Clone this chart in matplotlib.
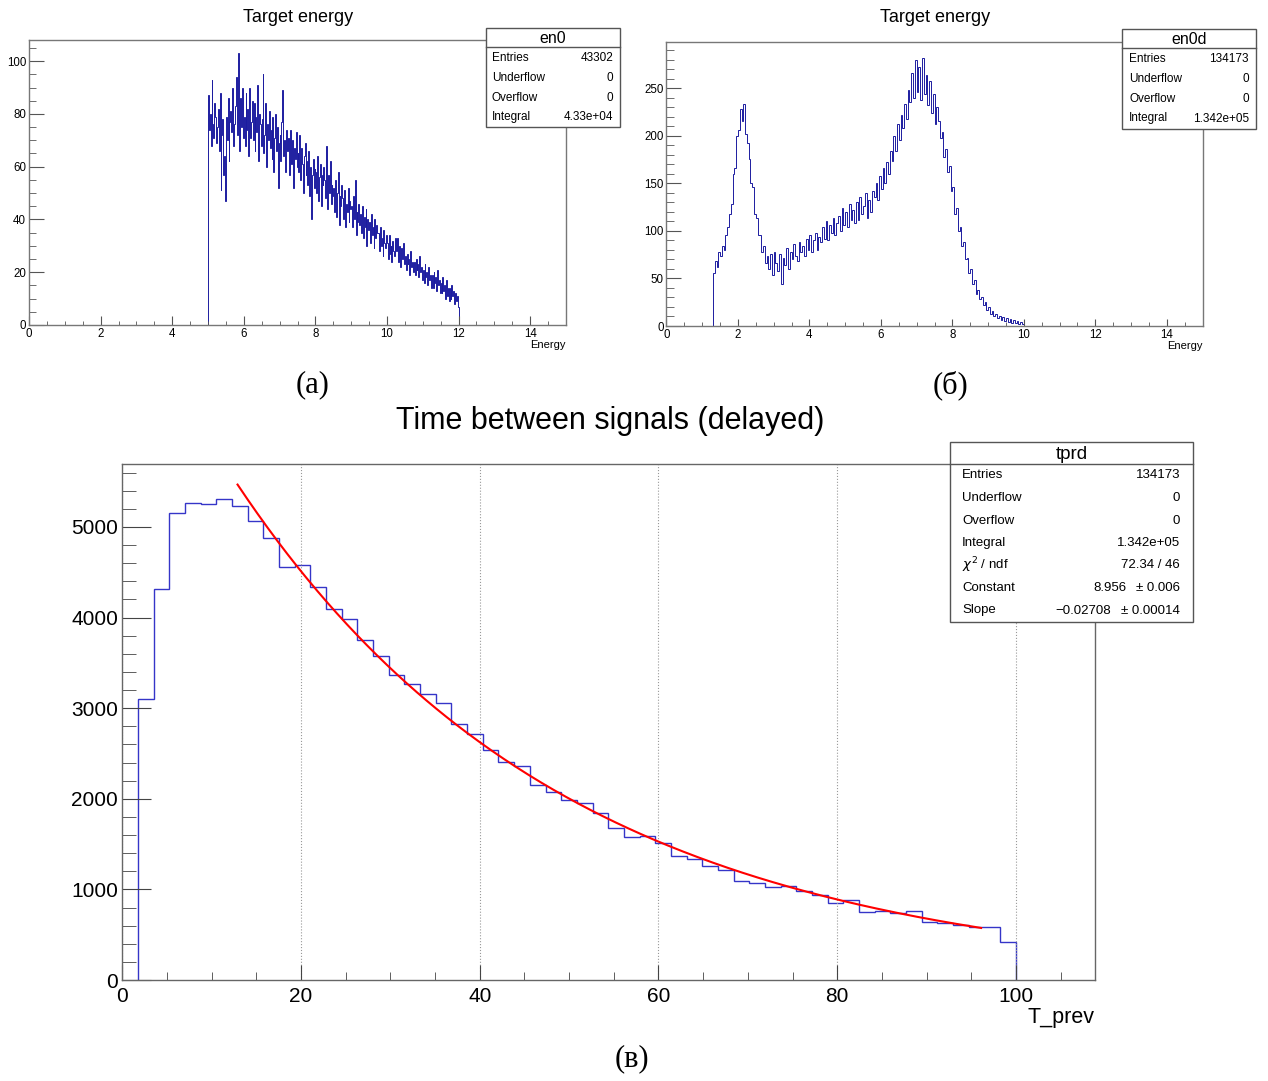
import matplotlib.pyplot as plt
import numpy as np
from matplotlib.patches import Rectangle
from matplotlib.lines import Line2D
from matplotlib.ticker import MultipleLocator

plt.rcParams['font.family'] = ['Liberation Sans', 'DejaVu Sans']

W, H = 1268, 1081

# ---- data -------------------------------------------------------------
# en0: target energy (prompt), bins of 0.025 starting at 5.00
en0_lo, en0_w = 5.0, 0.025
en0_counts = [
    87, 74, 80, 68, 93, 76, 71, 84, 79, 69,
    75, 82, 66, 88, 51, 72, 78, 57, 64, 47,
    79, 70, 86, 62, 77, 81, 73, 90, 68, 76,
    83, 94, 72, 80, 103, 66, 86, 75, 90, 71,
    79, 68, 88, 74, 82, 64, 90, 71, 77, 85,
    70, 84, 66, 79, 73, 91, 62, 80, 76, 68,
    78, 95, 65, 72, 84, 60, 76, 70, 81, 67,
    74, 63, 79, 58, 71, 80, 66, 75, 52, 69,
    72, 62, 77, 89, 64, 70, 58, 74, 66, 71,
    68, 57, 74, 61, 70, 52, 67, 63, 73, 60,
    65, 58, 72, 55, 67, 61, 50, 64, 69, 57,
    62, 53, 66, 49, 60, 40, 57, 63, 52, 59,
    58, 50, 64, 47, 56, 61, 45, 57, 53, 60,
    55, 48, 68, 44, 57, 50, 62, 46, 53, 49,
    52, 43, 55, 41, 50, 58, 38, 49, 45, 53,
    48, 40, 51, 37, 46, 43, 52, 39, 47, 44,
    45, 37, 49, 40, 55, 34, 43, 39, 46, 38,
    42, 35, 45, 33, 41, 37, 44, 30, 40, 36,
    39, 31, 42, 34, 37, 29, 40, 33, 38, 35,
    35, 28, 37, 30, 33, 26, 36, 31, 29, 34,
    31, 25, 34, 27, 30, 24, 32, 28, 26, 33,
    28, 33, 24, 30, 26, 22, 29, 25, 31, 23,
    26, 21, 27, 23, 25, 19, 28, 22, 24, 20,
    24, 19, 25, 21, 23, 18, 26, 20, 22, 17,
    21, 16, 23, 18, 20, 15, 22, 17, 19, 14,
    19, 14, 20, 16, 18, 13, 21, 15, 17, 12,
    16, 12, 18, 13, 15, 10, 17, 11, 14, 9,
    14, 10, 15, 11, 13, 8, 12, 9, 11, 7,
]

# en0d: target energy (delayed), bins of 0.05 starting at 1.30
en0d_lo, en0d_w = 1.3, 0.05
en0d_counts = [
    56, 68, 62, 78, 74, 84, 80, 96, 104, 118,
    128, 160, 166, 200, 206, 228, 216, 234, 202, 192,
    176, 150, 146, 118, 114, 96, 96, 78, 84, 66,
    74, 60, 76, 54, 78, 66, 58, 76, 44, 72,
    64, 82, 60, 78, 70, 86, 74, 68, 88, 78,
    84, 74, 92, 80, 96, 78, 90, 98, 80, 94,
    88, 104, 92, 110, 90, 106, 98, 114, 96, 108,
    116, 100, 124, 106, 120, 104, 128, 112, 122, 108,
    130, 112, 136, 118, 126, 140, 114, 132, 120, 142,
    136, 150, 132, 158, 144, 166, 150, 172, 160, 184,
    174, 200, 184, 212, 196, 222, 208, 234, 218, 248,
    236, 266, 240, 280, 246, 272, 238, 282, 244, 264,
    232, 258, 224, 244, 212, 230, 216, 198, 204, 178,
    186, 162, 168, 142, 146, 118, 124, 100, 104, 84,
    88, 70, 72, 56, 60, 44, 48, 34, 38, 28,
    30, 22, 25, 17, 20, 13, 16, 10, 13, 8,
    11, 6, 9, 5, 8, 4, 7, 3, 6, 3,
    5, 2, 4, 2,
]

# tprd: time between signals, 62 bins over 0..108.75, first filled bin = 1
tprd_w = 108.75 / 62
tprd_first = 1
tprd_counts = [
    3100, 4310, 5150, 5270, 5250, 5310, 5230, 5065,
    4875, 4562, 4584, 4334, 4098, 3988, 3749, 3580, 3363, 3264, 3153, 3057,
    2822, 2712, 2535, 2410, 2358, 2152, 2075, 1983, 1950, 1847, 1678, 1575,
    1593, 1512, 1365, 1336, 1258, 1214, 1093, 1071, 1030, 1034, 986, 935,
    850, 880, 751, 758, 740, 760, 637, 629, 611, 590, 590, 423,
]
fit_const, fit_slope = 8.956, -0.02708
fit_lo, fit_hi = 12.9, 96.1

stats_en0 = [('Entries', '43302'), ('Underflow', '0'), ('Overflow', '0'),
             ('Integral', '4.33e+04')]
stats_en0d = [('Entries', '134173'), ('Underflow', '0'), ('Overflow', '0'),
              ('Integral', '1.342e+05')]
stats_tprd = [('Entries', '134173', ''), ('Underflow', '0', ''), ('Overflow', '0', ''),
              ('Integral', '1.342e+05', ''), (r'$\chi^2$ / ndf', '72.34 / 46', ''),
              ('Constant', '8.956', '± 0.006'), ('Slope', '−0.02708', '± 0.00014')]

# ---- figure -----------------------------------------------------------
fig = plt.figure(figsize=(W / 100, H / 100), dpi=100)


def px(x, y):
    return x / W, 1 - y / H


def rect(x0, y0, x1, y1):
    return [x0 / W, 1 - y1 / H, (x1 - x0) / W, (y1 - y0) / H]


def frame(ax, color='#777777'):
    for s in ax.spines.values():
        s.set_color(color)
        s.set_linewidth(1.0)


def stat_box(x0, y0, x1, y1, yhead, name, rows, row_ys, xl, xr, name_fs, row_fs, xval=None):
    fig.add_artist(Rectangle(px(x0, y1), (x1 - x0) / W, (y1 - y0) / H,
                             transform=fig.transFigure, facecolor='white',
                             edgecolor='#555555', lw=1.0, zorder=10))
    fig.add_artist(Line2D([x0 / W, x1 / W], [1 - yhead / H] * 2,
                          transform=fig.transFigure, color='#555555', lw=1.0, zorder=11))
    fig.text(*px((x0 + x1) / 2, (y0 + yhead) / 2 + 1), name, ha='center', va='center',
             fontsize=name_fs, zorder=12)
    for i, (row, yy) in enumerate(zip(rows, row_ys)):
        fig.text(*px(xl, yy), row[0], ha='left', va='center', fontsize=row_fs, zorder=12)
        if len(row) > 2 and row[2]:
            fig.text(*px(xval[i], yy), row[1], ha='right', va='center', fontsize=row_fs, zorder=12)
            fig.text(*px(xr, yy), row[2], ha='right', va='center', fontsize=row_fs, zorder=12)
        else:
            fig.text(*px(xr, yy), row[1], ha='right', va='center', fontsize=row_fs, zorder=12)


# top left: en0
ax1 = fig.add_axes(rect(29, 40, 566, 325))
edges = en0_lo + en0_w * np.arange(len(en0_counts) + 1)
ax1.stairs(en0_counts, edges, baseline=0, color='#1c1ca0', lw=0.7)
ax1.set_xlim(0, 15)
ax1.set_ylim(0, 108)
ax1.xaxis.set_major_locator(MultipleLocator(2))
ax1.xaxis.set_minor_locator(MultipleLocator(0.5))
ax1.yaxis.set_major_locator(MultipleLocator(20))
ax1.yaxis.set_minor_locator(MultipleLocator(5))
ax1.tick_params(which='both', direction='in', labelsize=8.3, pad=2, color='#555555')
ax1.tick_params(axis='y', which='major', length=11)
ax1.tick_params(axis='y', which='minor', length=5)
ax1.tick_params(axis='x', which='major', length=6.5)
ax1.tick_params(axis='x', which='minor', length=3.2)
ax1.set_xlabel('Energy', loc='right', fontsize=8, labelpad=0)
frame(ax1)

# top right: en0d
ax2 = fig.add_axes(rect(666.5, 41.7, 1202.5, 326))
edges = en0d_lo + en0d_w * np.arange(len(en0d_counts) + 1)
ax2.stairs(en0d_counts, edges, baseline=0, color='#1c1ca0', lw=0.7)
ax2.set_xlim(0, 15)
ax2.set_ylim(0, 299)
ax2.xaxis.set_major_locator(MultipleLocator(2))
ax2.xaxis.set_minor_locator(MultipleLocator(0.5))
ax2.yaxis.set_major_locator(MultipleLocator(50))
ax2.yaxis.set_minor_locator(MultipleLocator(10))
ax2.tick_params(which='both', direction='in', labelsize=8.3, pad=2, color='#555555')
ax2.tick_params(axis='y', which='major', length=11)
ax2.tick_params(axis='y', which='minor', length=5.5)
ax2.tick_params(axis='x', which='major', length=5)
ax2.tick_params(axis='x', which='minor', length=3)
ax2.set_xlabel('Energy', loc='right', fontsize=8, labelpad=0)
frame(ax2)

# bottom: tprd
ax3 = fig.add_axes(rect(122.25, 464, 1095, 980))
edges = tprd_w * np.arange(tprd_first, tprd_first + len(tprd_counts) + 1)
ax3.stairs(tprd_counts, edges, baseline=0, color='#3535c8', lw=1.0)
xf = np.linspace(fit_lo, fit_hi, 300)
ax3.plot(xf, np.exp(fit_const + fit_slope * xf), color='red', lw=1.5)
ax3.set_xlim(0, 108.84)
ax3.set_ylim(0, 5695)
ax3.xaxis.set_major_locator(MultipleLocator(20))
ax3.xaxis.set_minor_locator(MultipleLocator(5))
ax3.yaxis.set_major_locator(MultipleLocator(1000))
ax3.yaxis.set_minor_locator(MultipleLocator(200))
ax3.tick_params(which='both', direction='in', labelsize=15, color='#444444')
ax3.tick_params(axis='y', which='major', length=21, pad=3)
ax3.tick_params(axis='y', which='minor', length=10)
ax3.tick_params(axis='x', which='major', length=11, pad=5)
ax3.tick_params(axis='x', which='minor', length=5.5)
ax3.grid(axis='x', which='major', linestyle=':', color='#999999', lw=0.8)
ax3.set_xlabel('T_prev', loc='right', fontsize=15.5, labelpad=1)
frame(ax3, '#666666')

# titles and captions
fig.text(*px(298, 17), 'Target energy', ha='center', va='center', fontsize=13)
fig.text(*px(935, 18), 'Target energy', ha='center', va='center', fontsize=13)
fig.text(*px(610, 421), 'Time between signals (delayed)', ha='center', va='center', fontsize=22)
cap_font = ['Liberation Serif', 'DejaVu Serif']
fig.text(*px(313, 385), '(а)', ha='center', va='center', fontsize=22, family=cap_font)
fig.text(*px(950, 385), '(б)', ha='center', va='center', fontsize=22, family=cap_font)
fig.text(*px(632, 1059), '(в)', ha='center', va='center', fontsize=22, family=cap_font)

# stat boxes
stat_box(486, 28, 620, 127, 46.7, 'en0', stats_en0, [58, 78, 98, 117],
         492, 613, 11.5, 8.5)
stat_box(1122, 29, 1256, 129, 48.3, 'en0d', stats_en0d, [59.5, 79, 99, 118.5],
         1129, 1249, 11.5, 8.5)
stat_box(950, 442, 1193, 622, 464.4, 'tprd', stats_tprd,
         [475.5, 498, 520.5, 543, 565.5, 588, 610.5],
         962, 1180, 13.5, 9.5, xval=[None] * 5 + [1127, 1111])

fig.savefig('out.png', dpi=100)
